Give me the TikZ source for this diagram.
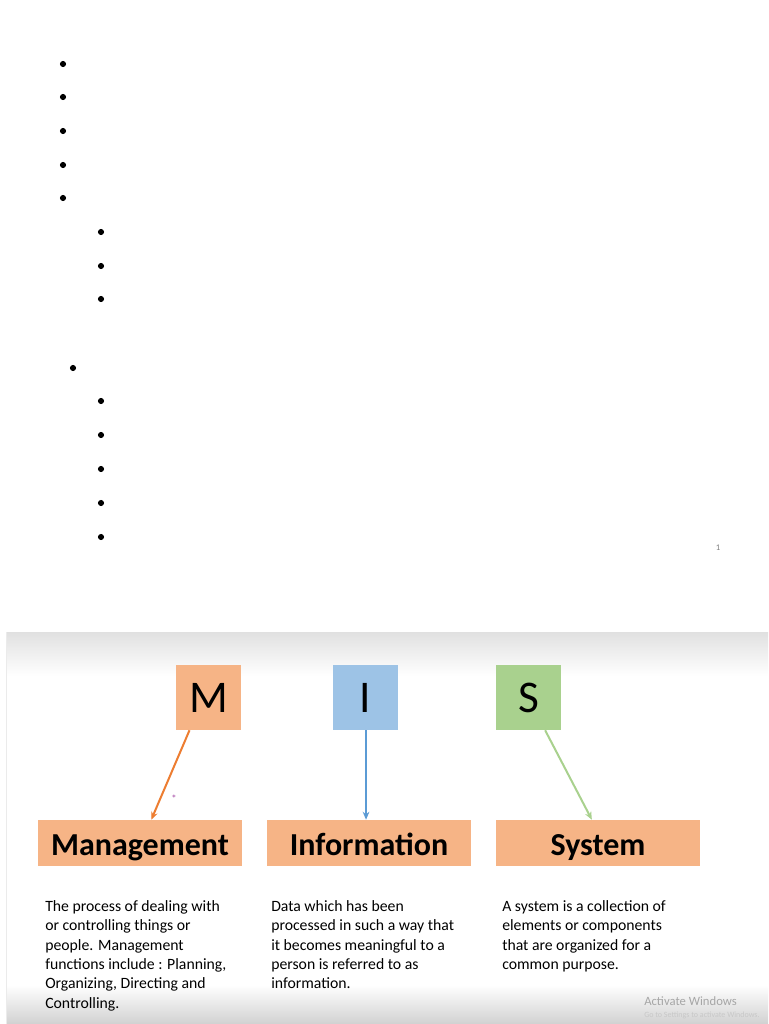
\documentclass[tikz,border=0pt]{standalone}
\usepackage{fontspec}
\setmainfont{Carlito}
\usetikzlibrary{arrows.meta,calc}
\definecolor{boxorange}{HTML}{F6B486}
\definecolor{boxblue}{HTML}{9DC3E6}
\definecolor{boxgreen}{HTML}{A9D18E}
\definecolor{arrorange}{HTML}{ED7D31}
\definecolor{arrblue}{HTML}{5B9BD5}
\definecolor{arrgreen}{HTML}{A9D18E}
\tikzset{
  bul/.style={circle,fill=black,inner sep=0pt,minimum size=4.6pt},
  letterbox/.style={minimum width=48.75pt,minimum height=48.75pt,inner sep=0pt,font=\fontsize{34}{34}\selectfont},
  wordbox/.style={fill=boxorange,minimum width=153pt,minimum height=34.5pt,inner sep=0pt,text height=20pt,text depth=2pt,font=\fontsize{24}{24}\selectfont\bfseries},
  para/.style={anchor=north west,inner sep=0pt,align=left,font=\fontsize{11.8}{14.55}\selectfont},
  conn/.style={line width=1.5pt,-{Stealth[length=6pt,width=5pt]}},
}
\begin{document}
\begin{tikzpicture}[x=0.75pt,y=-0.75pt]
\useasboundingbox (0,0) rectangle (768,1024);
\fill[white] (0,0) rectangle (768,1024);
% bullets (top slide)
\node[bul] (b1) at (63,64) {};
\node[bul] (b2) at (63,97) {};
\node[bul] (b3) at (63,131) {};
\node[bul] (b4) at (63,165) {};
\node[bul] (b5) at (63,198) {};
\node[bul] (s1) at (101,232) {};
\node[bul] (s2) at (101,266) {};
\node[bul] (s3) at (101,299) {};
\node[bul] (b6) at (73,368) {};
\node[bul] (t1) at (101,401) {};
\node[bul] (t2) at (101,435) {};
\node[bul] (t3) at (101,469) {};
\node[bul] (t4) at (101,503) {};
\node[bul] (t5) at (101,537) {};
\node[text=gray,font=\fontsize{6.5}{6.5}\selectfont] (pg) at (718,548) {1};
% screenshot area
\shade[top color=black!12,bottom color=white] (6,632) rectangle (768,676);
\shade[top color=white,bottom color=black!18] (6,985) rectangle (768,1024);
\draw[black!8,line width=0.5pt] (6,632) -- (6,1024);
% letter boxes
\node[letterbox,fill=boxorange] (m) at (208.5,697.5) {M};
\node[letterbox,fill=boxblue] (i) at (365.5,697.5) {I};
\node[letterbox,fill=boxgreen] (s) at (528.5,697.5) {S};
% word boxes
\node[wordbox] (mg) at (140,843) {Management};
\node[wordbox] (inf) at (369,843) {Information};
\node[wordbox] (sys) at (598,843) {System};
% connectors
\draw[conn,arrorange] ($(m.south west)!0.21!(m.south east)$) -- ($(mg.north west)!0.555!(mg.north east)$);
\draw[conn,arrblue] ([xshift=0.4pt]i.south) -- ([xshift=0.4pt]i.south |- inf.north);
\draw[conn,arrgreen] ($(s.south west)!0.754!(s.south east)$) -- ($(sys.north west)!0.47!(sys.north east)$);
\node[text=violet!70,font=\fontsize{8}{8}\selectfont] (ast) at (174,799) {*};
% descriptions
\node[para] (pm) at (45,900) {The process of dealing with\\or controlling things or\\people. Management\\functions include : Planning,\\Organizing, Directing and\\Controlling.};
\node[para] (pi) at (271,900) {Data which has been\\processed in such a way that\\it becomes meaningful to a\\person is referred to as\\information.};
\node[para] (ps) at (502,900) {A system is a collection of\\elements or components\\that are organized for a\\common purpose.};
% watermark
\begin{scope}
\clip (600,985) rectangle (768,1024);
\node[anchor=base west,inner sep=0pt,text=black!35,font=\fontsize{9.5}{9.5}\selectfont] (aw) at (644,1005) {Activate Windows};
\node[anchor=base west,inner sep=0pt,text=black!22,font=\fontsize{6}{6}\selectfont] (gs) at (644,1017) {Go to Settings to activate Windows.};
\end{scope}
\end{tikzpicture}
\end{document}
